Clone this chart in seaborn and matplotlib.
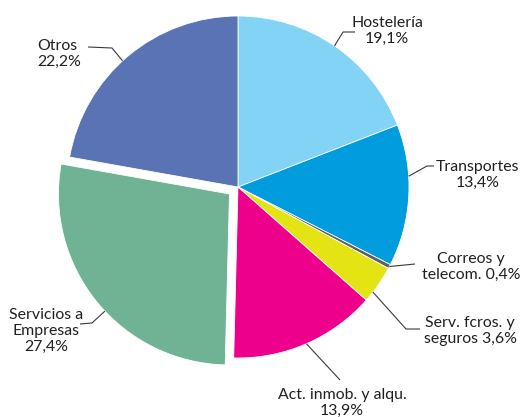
import numpy as np
import matplotlib
matplotlib.use("Agg")
import matplotlib.pyplot as plt
import seaborn as sns

# Sector shares (%), clockwise from 12 o'clock
sectors = ["Hostelería", "Transportes", "Correos y\ntelecom.", "Serv. fcros. y\nseguros",
           "Act. inmob. y alqu.", "Servicios a\nEmpresas", "Otros"]
shares = [19.1, 13.4, 0.4, 3.6, 13.9, 27.4, 22.2]
colors = ["#82D3F6", "#009CDE", "#5F6062", "#E4E415", "#EC008C", "#70B294", "#5A73B4"]
exploded = [0, 0, 0, 0, 0, 11, 0]

# Label layout in canvas pixels (x, y from top): text centre, leader elbow, leader end
label_fmt = ["{}\n{}", "{}\n{}", "{} {}", "{} {}", "{}\n{}", "{}\n{}", "{}\n{}"]
text_pos = [(387, 31), (478, 175), (471, 267), (470, 331), (342, 403), (46, 331), (37, 54)]
text_ha = ["center", "center", "center", "center", "center", "center", "left"]
elbows = [(343, 32), (427, 166), (415, 264), (406, 329), (340, 380), (92, 323), (112, 48)]
ends = [(355, 32), (434, 166), (415, 264), (420, 329), (340, 380), (80, 324), (88, 47)]
anchor_shift = [0, 6.5, 0, -3, 0, 4, 2.5]  # degrees

W, H = 525, 417
sns.set_theme(style="white")
plt.rcParams["font.family"] = ["Lato", "DejaVu Sans"]

fig = plt.figure(figsize=(W / 100, H / 100), dpi=100)
ax = fig.add_axes([0, 0, 1, 1])


def px(x, y):
    return x, H - y


cx, cy = px(238, 187)
wedges, _ = ax.pie(shares, colors=colors, explode=exploded, startangle=90,
                   counterclock=False, radius=171, center=(cx, cy),
                   wedgeprops=dict(edgecolor="white", linewidth=0.6))

ax.set_xlim(0, W)
ax.set_ylim(0, H)
ax.set_aspect("equal")
ax.axis("off")

for i, w in enumerate(wedges):
    mid = np.deg2rad((w.theta1 + w.theta2) / 2 + anchor_shift[i])
    ox, oy = w.center
    ax_x = ox + w.r * np.cos(mid)
    ax_y = oy + w.r * np.sin(mid)
    ex, ey = px(*elbows[i])
    nx, ny = px(*ends[i])
    ax.plot([ax_x, ex, nx], [ax_y, ey, ny], color="#3a3a3a", lw=0.8,
            solid_capstyle="butt", zorder=5)

    name = sectors[i]
    val = f"{shares[i]:.1f}".replace(".", ",") + "%"
    if "\n" in name and label_fmt[i] == "{} {}":
        txt = name + " " + val
    else:
        txt = label_fmt[i].format(name, val)
    tx, ty = px(*text_pos[i])
    ax.text(tx, ty, txt, ha=text_ha[i], va="center", multialignment=text_ha[i],
            fontsize=11.4, color="#231F20", linespacing=1.15)

fig.savefig("out.png", dpi=100)
